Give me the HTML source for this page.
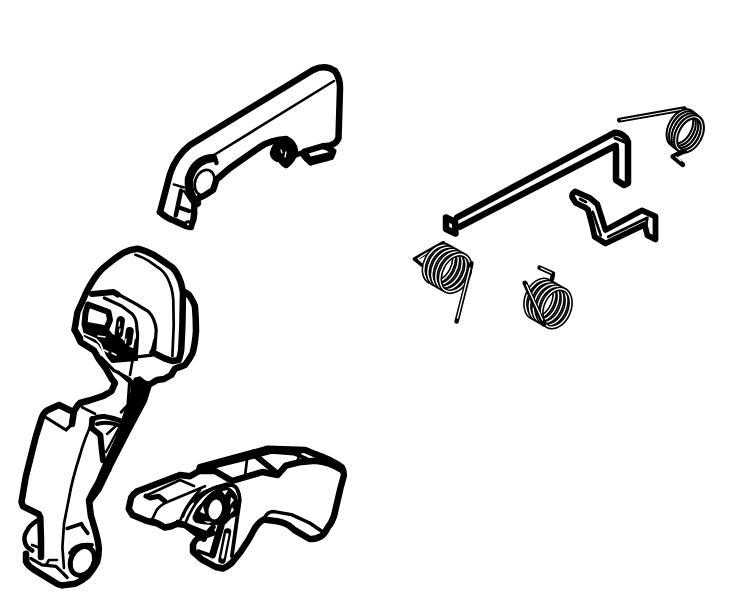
<!DOCTYPE html>
<html><head><meta charset="utf-8">
<style>
html,body{margin:0;padding:0;background:#fff;}
svg{display:block;}
</style></head>
<body>
<svg width="740" height="601" viewBox="0 0 740 601">
<rect width="740" height="601" fill="#fff"/>
<g fill="none" stroke="#000" stroke-linecap="round" stroke-linejoin="round">

<!-- ============ TOP HANDLE ============ -->
<g id="handle">
  <path stroke-width="6.5" d="M160,212 L170,174 Q176,156 190,145 L313,70 Q325,64 335,71 Q340,78 340,88 L338.5,138 Q336,144 330,145.5 L324,146.5"/>
  <path stroke-width="6.5" d="M160,212 Q166,218 175,221 L186,226 L191,227"/>
  <path stroke-width="6.5" d="M191,226 Q195,218 194,210 L195,200 Q205,196 213,190 Q216,182 216,180 L230,168 L260,147 Q270,140 286,139 Q294,143 295,151 Q293,160 286,165 Q281,162 280,156 Q274,160 273,153 Q275,146 278,144"/>
  <path fill="#000" stroke-width="5" d="M277,144 Q286,139 292,146 Q295,154 289,162 Q284,166 280,160 Q274,160 273.5,153 Q274,147 277,144 Z"/>
  <path stroke="#fff" stroke-width="1.3" d="M281,150 L282,153 M286,152 L285,157"/>
  <path stroke-width="5" d="M294,156 L301,153 L306,159 L311,163"/>
  <path stroke-width="6" d="M304.5,151.5 L324.3,145.7 L333.5,151.4 L331.2,157.2 L310.5,162.5 Z"/>
  <path stroke-width="4" d="M309,159 L330,154"/>
  <path stroke-width="2.6" d="M214,155 L334,81"/>
  <ellipse cx="204.6" cy="182.5" rx="9.5" ry="13" transform="rotate(20 204.6 182.5)" stroke-width="2.7"/>
  <path stroke-width="8.5" d="M213,158 Q195,159 189,179 Q188,196 197,203"/>
  <path stroke-width="4.5" d="M211,158 Q216,157 216.5,163"/>
  <path stroke-width="3.8" d="M214,158 Q207,155 203,159"/>
  <circle cx="188.1" cy="224.3" r="2.6" stroke-width="3" fill="#fff"/>
  <path stroke-width="2.4" d="M173.7,184.4 L184,187.5 M184,191 L195,207"/>
  <path stroke-width="4.5" d="M181,190.6 L175.8,215.4 M179,207.5 L189,211"/>
</g>

<!-- ============ LEFT BIG PART ============ -->
<g id="bigpart">
  <!-- head outer -->
  <path stroke-width="6.5" d="M80,338 L74.5,330 L77.5,312 L87.5,290 Q93,280 98,273.5 Q102,268.5 107,264.9 Q115,258 123.2,253 Q130,249.5 137.3,248.7 Q142,250 146,251.4 Q153,254 160,259 L169.3,265.5 Q173,267 176.2,272.3 Q179,277 180.9,282.8 L183,292 L182.4,325 L181.2,350 Q180,357 178.7,360 L172.4,361 L165,358.6 L152.5,352.4"/>
  <!-- bump -->
  <path stroke-width="6.5" d="M184,292 Q188,293 190.2,296.7 Q193,301 194.9,306 Q196,318 196,331 Q195,345 192.4,353.6 Q189,360 185,365 Q180,367 175,368.6 L171.2,375 L164,379 L157,380 L152,383"/>
  <!-- rim -->
  <path stroke-width="2.7" d="M135.5,254.8 Q142,257 148.3,260.6 L160,268.8 Q164,272 167,277 Q170,283 171.6,288.6 Q173,295 173.3,300 L173.7,325 L172.4,356"/>
  <!-- visor -->
  <path stroke-width="6" d="M92,294 L113.6,292 L117.6,294.5"/>
  <path stroke-width="3.2" d="M117.6,294 L135,303.3 L148.2,311.3 Q152,315 153.6,319.3 Q156,325 156.2,330 L154.9,348.5 L153.6,353.9"/>
  <path stroke-width="3.2" d="M104.3,298 L121.6,306 L132.3,314 Q135.5,318 136.3,322 L137.6,335.2 L136.3,356.5"/>
  <path stroke-width="3.2" d="M135,357.2 L152.2,355.2"/>
  <!-- screen -->
  <path fill="#000" stroke-width="2" d="M83,326 L107,329 L112,335 L122,340 L126,346 L136,351 L137,360 L112,362 L104,352 L98,343 L85,336 Z"/>
  <path stroke-width="6" d="M88,304.5 L108.5,312 L110,320 L106.5,328.5 L84.5,324.5 L85.5,313 Z"/>
  <path stroke="#fff" stroke-width="1.6" d="M104,350 L108,352 M112,353 L116,355 M98,336 L105,337"/>
  <path stroke="#fff" stroke-width="1.8" d="M82,333 L96,339 L100.5,344 L103.5,352 L107,360"/>
  <rect x="115.5" y="316" width="8.5" height="22" rx="4.2" fill="#000" stroke="none" transform="rotate(8 119.5 327)"/>
  <rect x="125" y="327" width="8" height="19" rx="4" fill="#000" stroke="none" transform="rotate(8 129 336.5)"/>
  <path stroke="#fff" stroke-width="1.3" d="M119.5,322 L119,326 M120,329 L119.5,332 M126,339 L125.5,343"/>
  <!-- neck left -->
  <path stroke-width="6.5" d="M75,330 L80.5,342 L94,350.5 L98.5,358.5 L105.5,368 L111.5,378.5 L115,383 L111.4,391.2 L103.3,395.9 L89.3,400.5 L80,403 L77.8,405.2 L74,411 L72,424"/>
  <path stroke-width="3.2" d="M101,357.5 L113.8,370.3 L128.9,378.4 L132.4,382 L132.4,392.4 L130,404"/>
  <path stroke-width="2.7" d="M136,340 L130,375 M154.5,340 L151,354"/>
  <!-- dark band -->
  <path fill="#000" stroke-width="1.5" d="M134.5,378.5 L140,377 L145,381 L152,383 L146,402 L130,432 L112,467 L101,490 L92,502 L90,500 L93,489 L103,465 L116,438 L124,414 L130,398 Z"/>
  <!-- wedge -->
  <path stroke-width="6" d="M92.3,419 L91.5,428 L100.3,435 L101.6,448.2 L103,460.2"/>
  <path stroke-width="5" d="M92.3,419.5 Q98,416 104.3,416.5 Q114,418 122.9,421.6"/>
  <path stroke-width="4" d="M97,424 Q108,421 120,425.6"/>
  <path stroke-width="2.5" d="M107,434 L117.5,424.5 M106,452 L119,428"/>
  <path stroke-width="3.2" d="M118,372 L129.6,382 L128,405 L121.3,412"/>
  <!-- lower arm outer -->
  <path stroke-width="6.5" d="M73.4,412 L59,405 L47,410.5 Q43,413 41,420 L36,436 L32.3,450.6 L25.8,476.6 L21.5,502 L23,506.3 L38.7,514.2 L40.3,517.4 L41,539.5 L41,557"/>
  <path stroke-width="3.2" d="M46,417.5 L66,430 L71,425"/>
  <path stroke-width="2.7" d="M82,407.3 L95,413.8"/>
  <!-- bottom end -->
  <path stroke-width="6.5" d="M26,553.7 L26,561.7 Q28,566 34,569.6 L54.5,582.2 Q58,585 62.4,585.4 L75,583.8 Q82,581 87.7,575.9 Q93,570 97.2,561.7 Q99,555 98.8,547.4 Q98,540 95.6,531.6 L90.9,515.8 L89,500 Q96,484 108,470"/>
  <path stroke-width="3.2" d="M30.8,558.5 L41.9,564.8 L56,566.4 L62.4,572.7 L67.2,577.5"/>
  <path stroke-width="2.7" d="M93,420.3 Q84,440 80,455 Q72,480 69,498 L64,523.7 L62.4,547.4 L64,568"/>
  <path stroke-width="4.5" d="M37.1,520.6 Q29,526 27.6,530 Q24,535 24.5,539.5 Q25,545 27.6,547.4 L32.4,550.6"/>
  <ellipse cx="82.4" cy="561" rx="11.5" ry="15" transform="rotate(25 82.4 561)" stroke-width="5"/>
  <path stroke-width="3.8" d="M70,553 Q76,543 92,545"/>
  <path stroke-width="3.8" d="M67.2,528.5 L81.4,523.7 L83,526.9 L87.7,533.2"/>
  <path stroke-width="2.7" d="M32,545 L40,548 M46,565 L49,560 L57,560"/>
</g>

<!-- ============ BOTTOM MIDDLE PART ============ -->
<g id="midpart">
  <!-- outer top/right contour -->
  <path stroke-width="6.5" d="M137.5,491.2 L180,475 L190,476.2 L199,471 L199.9,467.2 L268,448.7 L305.3,450 L315,454.2 Q332,460 341.9,467.4 Q344,471 343.9,475.5 L340.5,488 L334,516 Q331,524 328,527 Q324,535 320.7,536.5 Q315,539.5 309.7,539 L295,530.4 L289,525.5 Q281,521 273.2,520.7 L263.5,519.5 Q259,522 255,528 L249,539 L240.5,552 L231,563.6 Q227,567 223,568.5 L215.7,567 L201.6,559.3 L193,551.8 L193,545.3"/>
  <!-- left end contour -->
  <path stroke-width="6.5" d="M137.5,491.2 Q133,494 131.2,497.5 L128.7,508.7 L132.5,515 L147.5,521.2 L157.5,523.7 L165,527.5 L171.2,526.2 L177.4,523.7 L185,525 L195,532.4 L203.7,538.6"/>
  <!-- rail bottom -->
  <path stroke-width="6.5" d="M199,471 L215,471 L232,481 L262.4,472 L277.7,475 L285.8,465.6 L298.8,462.3 L315,460.7 Q330,462 342,470"/>
  <path stroke-width="5" d="M203,467 L216,465.5 L257,455.5"/>
  <path stroke-width="6" d="M256,456 L277.7,473.7"/>
  <path stroke-width="4" d="M256.6,455.8 L271.2,451.8 L294,453.4 L306.9,459"/>
  <path stroke-width="2.7" d="M246.9,460.5 L245.3,473.7 M300,454 L297,462"/>
  <!-- inner handle curve -->
  <path stroke-width="3.5" d="M265,517 Q268,511.5 274,511.6 L291.5,514.6 L309.7,523 L323,532"/>
  <!-- left block details -->
  <path stroke-width="2.7" d="M147.5,495 L180,480 L194,486"/>
  <path stroke-width="2.7" d="M166.2,502.4 L205,486.2"/>
  <path stroke-width="5" d="M146,496 L150,498 L158.7,496.2 L165,501.2"/>
  <path stroke-width="2.7" d="M166.2,502.4 Q158,507 156.2,511 L152.5,518.7"/>
  <path stroke-width="4.5" d="M152,520 L158,522.5 L162,525"/>
  <path stroke-width="2.7" d="M200,490 Q186,505 180,521 M204,492 Q191,508 185,524"/>
  <!-- plate -->
  <path stroke-width="3.2" d="M182.7,516.4 Q186,506 194.3,499 Q200,494 207,490.8 L227,483.8"/>
  <path stroke-width="3.8" d="M195.5,502.5 Q203,493 213,488.5 Q222,485 231.6,485 Q236,486 237.4,489.6 Q240,495 239.7,501.3 L237.4,516.4 L231.9,556"/>
  <path fill="#000" stroke-width="1" fill-rule="evenodd" d="M207,496.6 Q215,488 227,487.3 Q233,489 236.2,495.5 Q239,504 238.6,513 Q236,517 231.6,517.6 L224.6,524.6 L213,524.6 Q202,524 195.5,522.3 Q192,519 193.1,516.4 Q196,508 201.3,503.6 Z M215.3,498.5 Q224,499 222.5,510 Q221,520 213.5,520.5 Q207,519.5 208,508.5 Q209.5,498.5 215.3,498.5 Z"/>
  <path fill="#fff" stroke="none" d="M222,491 L228,490 L225,495 Z M231,497 L234,500 L230,505 Z M232,507 L234,510 L230,514 Z M200,512 L203,506 L205,514 Z M204,521 L212,522 L208,523.5 Z"/>
  <ellipse cx="215.3" cy="509.5" rx="7.6" ry="11" transform="rotate(12 215.3 509.5)" stroke-width="2" fill="#fff"/>
  <path stroke-width="5.5" d="M178,522.3 L197.8,530.4 L207,534 L213,527"/>
  <path stroke-width="7" d="M221,526 L212.5,555"/>
  <path stroke-width="6" d="M193,546 Q194,540 199,538 L213,533"/>
  <path stroke-width="3.5" d="M198,551 L212,556"/>
  <path stroke-width="7.5" d="M227.5,532 L222,560"/>
  <path stroke="#fff" stroke-width="2.8" d="M227.2,534.5 L222.6,557.5"/>
</g>

<!-- ============ ROD ============ -->
<g id="rod">
  <path stroke-width="6.5" d="M457,217.5 L614,133 Q620,132 626,138 L628,142 L628,183 L624,185 L616,180 L616,150 L615.7,145.7 L460,226.6"/>
  <path stroke-width="3.2" d="M615,138 L627,143"/>
  <path stroke-width="6.5" d="M446,217.5 L455,222 L455.5,233.5 L446,229 Z"/>
</g>

<!-- ============ BRACKET ============ -->
<g id="bracket">
  <path stroke-width="5.8" d="M575.1,191.5 Q571,194 572.4,197.6 L575.8,203 L585.3,207.7 L588,209.7 L592,224.6 L594.7,236.8 L605.5,243.5 L644.7,224.6 L647.4,235.4 L655.5,239.5 L655.5,216.5 L642,210.4 L605.5,230 L600.8,215.1 L597.4,204.3 L589.3,197.6 Z"/>
  <path stroke-width="2.7" d="M608.2,236.8 L647.4,217.8 L646,226 M592.7,211.8 L600.8,235.4 M580,199 L586,202"/>
</g>

<!-- ============ SPRING TOP RIGHT ============ -->
<g id="spring1">
  <path stroke-width="5" d="M619.5,120.1 L684.3,108.8"/>
  <path stroke-width="1.1" stroke="#fff" d="M621,120 L682,109.3"/>
  <ellipse cx="681.5" cy="128.0" rx="11.5" ry="18.5" transform="rotate(28 681.5 128.0)" stroke-width="5.2"/>
  <ellipse cx="681.5" cy="128.0" rx="11.5" ry="18.5" transform="rotate(28 681.5 128.0)" stroke="#fff" stroke-width="1.1"/>
  <ellipse cx="684.0" cy="130.0" rx="11.5" ry="18.5" transform="rotate(28 684.0 130.0)" stroke-width="5.2"/>
  <ellipse cx="684.0" cy="130.0" rx="11.5" ry="18.5" transform="rotate(28 684.0 130.0)" stroke="#fff" stroke-width="1.1"/>
  <ellipse cx="686.5" cy="132.0" rx="11.5" ry="18.5" transform="rotate(28 686.5 132.0)" stroke-width="5.2"/>
  <ellipse cx="686.5" cy="132.0" rx="11.5" ry="18.5" transform="rotate(28 686.5 132.0)" stroke="#fff" stroke-width="1.1"/>
  <ellipse cx="689.0" cy="134.0" rx="11.5" ry="18.5" transform="rotate(28 689.0 134.0)" stroke-width="5.2"/>
  <ellipse cx="689.0" cy="134.0" rx="11.5" ry="18.5" transform="rotate(28 689.0 134.0)" stroke="#fff" stroke-width="1.1"/>
  <path stroke-width="5" d="M684.3,151 L673,156.6 L682.7,164.7"/>
  <path stroke-width="1.1" stroke="#fff" d="M676,156.6 L681,161"/>
</g>

<!-- ============ SPRING LEFT ============ -->
<g id="spring2">
  <path stroke-width="4.5" d="M443.3,243.3 L415,259.1 L426.6,268.3"/>
  <path stroke-width="1.3" stroke="#fff" d="M440,245 L418,258.5 L425,265"/>
  <ellipse cx="439.0" cy="264.0" rx="13.5" ry="20" transform="rotate(28 439.0 264.0)" stroke-width="4.6"/>
  <ellipse cx="439.0" cy="264.0" rx="13.5" ry="20" transform="rotate(28 439.0 264.0)" stroke="#fff" stroke-width="1.4"/>
  <ellipse cx="443.0" cy="266.2" rx="13.5" ry="20" transform="rotate(28 443.0 266.2)" stroke-width="4.6"/>
  <ellipse cx="443.0" cy="266.2" rx="13.5" ry="20" transform="rotate(28 443.0 266.2)" stroke="#fff" stroke-width="1.4"/>
  <ellipse cx="447.0" cy="268.5" rx="13.5" ry="20" transform="rotate(28 447.0 268.5)" stroke-width="4.6"/>
  <ellipse cx="447.0" cy="268.5" rx="13.5" ry="20" transform="rotate(28 447.0 268.5)" stroke="#fff" stroke-width="1.4"/>
  <ellipse cx="451.0" cy="270.8" rx="13.5" ry="20" transform="rotate(28 451.0 270.8)" stroke-width="4.6"/>
  <ellipse cx="451.0" cy="270.8" rx="13.5" ry="20" transform="rotate(28 451.0 270.8)" stroke="#fff" stroke-width="1.4"/>
  <ellipse cx="455.0" cy="273.0" rx="13.5" ry="20" transform="rotate(28 455.0 273.0)" stroke-width="4.6"/>
  <ellipse cx="455.0" cy="273.0" rx="13.5" ry="20" transform="rotate(28 455.0 273.0)" stroke="#fff" stroke-width="1.4"/>
  <path stroke-width="4.5" d="M471.5,263.3 L456.6,321.5"/>
  <path stroke-width="1.3" stroke="#fff" d="M470,268 L457.5,318"/>
</g>

<!-- ============ SPRING MID ============ -->
<g id="spring3">
  <path stroke-width="4.5" d="M539.6,267.6 L553,273.6 L552,279"/>
  <path stroke-width="1.3" stroke="#fff" d="M541,268.2 L551.5,273"/>
  <ellipse cx="540.0" cy="299.0" rx="13.5" ry="20" transform="rotate(22 540.0 299.0)" stroke-width="4.6"/>
  <ellipse cx="540.0" cy="299.0" rx="13.5" ry="20" transform="rotate(22 540.0 299.0)" stroke="#fff" stroke-width="1.4"/>
  <ellipse cx="544.0" cy="301.2" rx="13.5" ry="20" transform="rotate(22 544.0 301.2)" stroke-width="4.6"/>
  <ellipse cx="544.0" cy="301.2" rx="13.5" ry="20" transform="rotate(22 544.0 301.2)" stroke="#fff" stroke-width="1.4"/>
  <ellipse cx="548.0" cy="303.5" rx="13.5" ry="20" transform="rotate(22 548.0 303.5)" stroke-width="4.6"/>
  <ellipse cx="548.0" cy="303.5" rx="13.5" ry="20" transform="rotate(22 548.0 303.5)" stroke="#fff" stroke-width="1.4"/>
  <ellipse cx="552.0" cy="305.8" rx="13.5" ry="20" transform="rotate(22 552.0 305.8)" stroke-width="4.6"/>
  <ellipse cx="552.0" cy="305.8" rx="13.5" ry="20" transform="rotate(22 552.0 305.8)" stroke="#fff" stroke-width="1.4"/>
  <ellipse cx="556.0" cy="308.0" rx="13.5" ry="20" transform="rotate(22 556.0 308.0)" stroke-width="4.6"/>
  <ellipse cx="556.0" cy="308.0" rx="13.5" ry="20" transform="rotate(22 556.0 308.0)" stroke="#fff" stroke-width="1.4"/>
  <path stroke-width="5" d="M525,283 L543.6,324"/>
  <path stroke-width="1.4" stroke="#fff" d="M526.5,285 L542.5,320"/>
</g>

</g>
</svg>
</body></html>
